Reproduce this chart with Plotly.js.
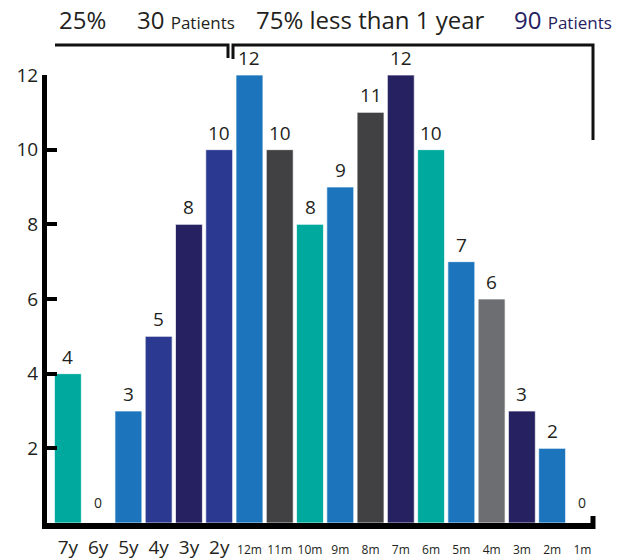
<!DOCTYPE html>
<html>
<head>
<meta charset="utf-8">
<script src="https://cdn.plot.ly/plotly-3.0.1.min.js"></script>
<style>html,body{margin:0;padding:0;background:#fff;}#chart{width:626px;height:560px;}</style>
</head>
<body>
<div id="chart"></div>
<script>
// ---- data ----
const categories = ["7y","6y","5y","4y","3y","2y","12m","11m","10m","9m","8m","7m","6m","5m","4m","3m","2m","1m"];
const values = [4,0,3,5,8,10,12,10,8,9,11,12,10,7,6,3,2,0];
const barColors = ["#00a99d","#1c75bc","#1c75bc","#2b3990","#262262","#2b3990","#1c75bc","#414042","#00a99d","#1c75bc","#414042","#262262","#00a99d","#1c75bc","#6d6e71","#262262","#1c75bc","#1c75bc"];
const yTicks = [2,4,6,8,10,12];
const headerLeftPct = "25%";
const headerLeftCount = "30";
const headerRightText = "75% less than 1 year";
const headerRightCount = "90";
const patientsWord = "Patients";

// ---- layout helpers ----
const L = 47, R = 593, T = 75, B = 523;
const px = v => (v - L) / (R - L);
const py = v => (B - v) / (B - T);
const textColor = "#231f20";
const fontFam = "Open Sans, Noto Sans, sans-serif";

const ticktext = categories.map(c => c.endsWith("m") ? '<span style="font-size:12px">' + c + '</span>' : c);

const trace = {
  type: "bar",
  x: categories,
  y: values,
  marker: {color: barColors, line: {color: "rgba(255,255,255,0.7)", width: 1}},
  hoverinfo: "x+y",
  showlegend: false
};

const valueAnnotations = categories.map((c, i) => ({
  x: c, y: values[i], xref: "x", yref: "y",
  text: String(values[i]),
  showarrow: false, xanchor: "center", yanchor: "bottom",
  yshift: values[i] === 0 ? 9 : 2,
  font: {family: fontFam, size: values[i] === 0 ? 14 : 19, color: textColor}
}));

const headerAnnotations = [
  {x: px(57), y: py(20), text: headerLeftPct, font: {size: 24, color: textColor}},
  {x: px(135), y: py(20), text: headerLeftCount + ' <span style="font-size:17px">' + patientsWord + '</span>', font: {size: 24, color: textColor}},
  {x: px(254), y: py(20), text: headerRightText, font: {size: 24, color: textColor}},
  {x: px(512), y: py(20), text: headerRightCount + ' <span style="font-size:17px">' + patientsWord + '</span>', font: {size: 24, color: "#262262"}}
].map(a => Object.assign({xref: "paper", yref: "paper", showarrow: false, xanchor: "left", yanchor: "middle"}, a, {font: Object.assign({family: fontFam}, a.font)}));

const lineStyle = {color: "#111", width: 3};
const shapes = [
  {type: "path", xref: "paper", yref: "paper",
   path: `M ${px(55)} ${py(45)} L ${px(228)} ${py(45)} L ${px(228)} ${py(58)}`, line: lineStyle},
  {type: "path", xref: "paper", yref: "paper",
   path: `M ${px(233)} ${py(59)} L ${px(233)} ${py(45)} L ${px(593)} ${py(45)} L ${px(593)} ${py(140)}`, line: lineStyle},
  {type: "line", xref: "paper", yref: "paper", x0: px(593), x1: px(593), y0: py(516), y1: py(529), line: {color: "#000", width: 5}}
];

const layout = {
  width: 626, height: 560,
  margin: {l: L, r: 626 - R, t: T, b: 560 - B},
  paper_bgcolor: "#fff", plot_bgcolor: "#fff",
  bargap: 0.11,
  font: {family: fontFam, color: textColor},
  xaxis: {
    type: "category", categoryarray: categories, range: [-0.69, 17.35],
    tickvals: categories, ticktext: ticktext,
    showline: true, linecolor: "#000", linewidth: 6,
    ticks: "", showgrid: false, zeroline: false,
    tickfont: {family: fontFam, size: 19, color: textColor},
    ticklabelstandoff: 2, fixedrange: true
  },
  yaxis: {
    range: [0, 12], tickvals: yTicks, ticktext: yTicks.map(String),
    showline: true, linecolor: "#000", linewidth: 5,
    ticks: "inside", ticklen: 10, tickwidth: 4, tickcolor: "#000",
    showgrid: false, zeroline: false,
    tickfont: {family: fontFam, size: 19, color: textColor},
    ticklabelstandoff: 0, fixedrange: true
  },
  annotations: valueAnnotations.concat(headerAnnotations),
  shapes: shapes
};

Plotly.newPlot("chart", [trace], layout, {displayModeBar: false, staticPlot: true});
</script>
</body>
</html>
